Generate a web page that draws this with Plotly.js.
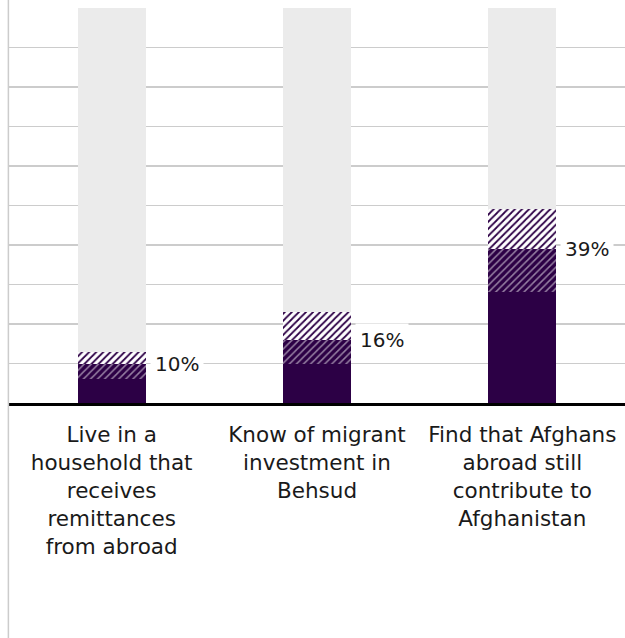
<!DOCTYPE html>
<html>
<head>
<meta charset="utf-8">
<script src="https://cdn.plot.ly/plotly-3.0.1.min.js"></script>
<style>html,body{margin:0;padding:0;background:#fff;}#chart{width:625px;height:638px;}</style>
</head>
<body>
<div id="chart"></div>
<script>
const categories = [
  'Live in a<br>household that<br>receives<br>remittances<br>from abroad',
  'Know of migrant<br>investment in<br>Behsud',
  'Find that Afghans<br>abroad still<br>contribute to<br>Afghanistan'
];
const solidValues = [6, 10, 28];
const denseHatchValues = [4, 6, 11];
const lightHatchValues = [3, 7, 10];
const remainderValues = [87, 77, 51];
const labelValues = [10, 16, 39];
const labelTexts = ['10%', '16%', '39%'];

const dark = '#2c0045';
const grey = '#ebebeb';
const font = '"DejaVu Sans", "Open Sans", sans-serif';

const traces = [
  {type: 'bar', x: categories, y: solidValues, marker: {color: dark, line: {width: 0}}, hoverinfo: 'skip'},
  {type: 'bar', x: categories, y: denseHatchValues, marker: {color: dark, line: {width: 0},
    pattern: {shape: '/', fillmode: 'overlay', fgcolor: '#ffffff', size: 5, solidity: 0.3}}, hoverinfo: 'skip'},
  {type: 'bar', x: categories, y: lightHatchValues, marker: {color: dark, line: {width: 0},
    pattern: {shape: '/', fillmode: 'replace', fgcolor: dark, bgcolor: '#ffffff', size: 5, solidity: 0.35}}, hoverinfo: 'skip'},
  {type: 'bar', x: categories, y: remainderValues, marker: {color: grey, line: {width: 0}}, hoverinfo: 'skip'}
];

const annotations = categories.map((c, i) => ({
  x: c, y: labelValues[i], xref: 'x', yref: 'y',
  text: labelTexts[i], showarrow: false,
  xanchor: 'left', yanchor: 'middle', xshift: 38,
  bgcolor: '#ffffff', borderpad: 4,
  font: {family: font, size: 20, color: '#1a1a1a'}
}));

const layout = {
  width: 625, height: 638,
  margin: {l: 9, r: 0, t: 8, b: 235},
  barmode: 'stack',
  bargap: 0.67,
  showlegend: false,
  paper_bgcolor: '#ffffff', plot_bgcolor: '#ffffff',
  font: {family: font, color: '#1a1a1a'},
  xaxis: {
    type: 'category',
    showgrid: false,
    showline: true, linecolor: '#000000', linewidth: 3,
    ticks: '', ticklabelstandoff: 10,
    tickfont: {family: font, size: 21.5, color: '#1a1a1a'},
    fixedrange: true
  },
  yaxis: {
    range: [0, 100], dtick: 10, tick0: 0,
    showgrid: true, gridcolor: '#cccccc', gridwidth: 1.5,
    zeroline: false, showticklabels: false, ticks: '',
    fixedrange: true
  },
  annotations: annotations,
  shapes: [{type: 'line', xref: 'paper', yref: 'paper', x0: -0.001, x1: -0.001, y0: -0.6, y1: 1.03,
    line: {color: '#cccccc', width: 1.5}}]
};

Plotly.newPlot('chart', traces, layout, {displayModeBar: false, staticPlot: true});
</script>
</body>
</html>
